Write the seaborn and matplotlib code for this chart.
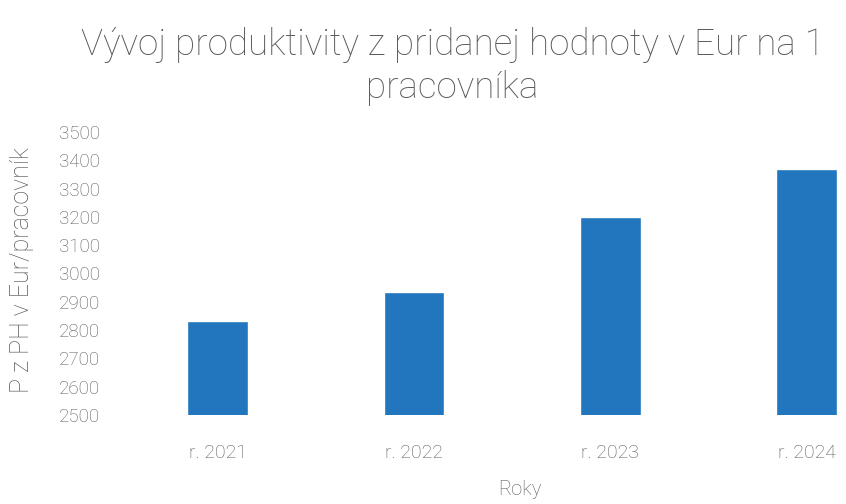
import matplotlib.pyplot as plt
import numpy as np
import pandas as pd
import seaborn as sns

# data
roky = ['r. 2021', 'r. 2022', 'r. 2023', 'r. 2024']
hodnoty = [2830, 2935, 3200, 3370]
y_ticks = [2500, 2600, 2700, 2800, 2900, 3000, 3100, 3200, 3300, 3400, 3500]

sns.set_style('white')
plt.rcParams['font.family'] = ['Roboto', 'DejaVu Sans']
sivá = '#5a5a5a'

df = pd.DataFrame({'Roky': roky, 'Hodnota': hodnoty})

fig = plt.figure(figsize=(8.46, 5.04), dpi=100)
ax = fig.add_axes([0.177, 0.177, 0.823, 0.561])
sns.barplot(data=df, x='Roky', y='Hodnota', color='#2176bd', width=0.31,
            saturation=1, ax=ax)

ax.set_ylim(2500, 3500)
ax.set_xlim(-0.346, 3.2)
ax.set_yticks(y_ticks)
ax.set_yticklabels([str(t) for t in y_ticks], color=sivá, fontsize=13.5, fontweight='light')
ax.set_xticks(range(len(roky)))
ax.set_xticklabels(roky, color=sivá, fontsize=14, fontweight='light')
ax.tick_params(axis='y', length=0, pad=36)
ax.tick_params(axis='x', length=0, pad=21)
sns.despine(ax=ax, left=True, bottom=True)

# popisy osí
ax.set_xlabel('')
ax.set_ylabel('')
fig.text(0.615, 0.028, 'Roky', color=sivá, fontsize=14.5, fontweight='light',
         ha='center', va='center')
fig.text(0.026, 0.464, 'P z PH v Eur/pracovník', rotation=90, color=sivá,
         fontsize=18, fontweight='light', ha='center', va='center')

# nadpis
fig.text(0.535, 0.91, 'Vývoj produktivity z pridanej hodnoty v Eur na 1',
         color=sivá, fontsize=26.5, fontweight='light', ha='center', va='center')
fig.text(0.535, 0.825, 'pracovníka', color=sivá, fontsize=26.5,
         fontweight='light', ha='center', va='center')

fig.savefig('out.png', dpi=100)
